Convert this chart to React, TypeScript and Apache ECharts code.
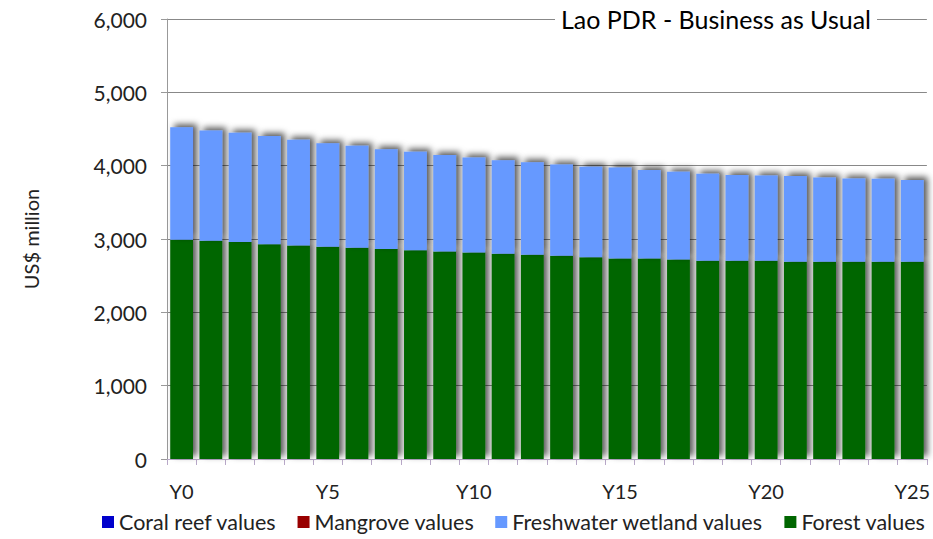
import React, { useEffect, useRef } from "react";
import * as echarts from "echarts";

const categories = Array.from({ length: 26 }, (_, i) => "Y" + i);
const forestValues = [2990, 2975, 2960, 2930, 2910, 2895, 2880, 2865, 2845, 2830, 2815, 2800, 2785, 2770, 2750, 2735, 2735, 2720, 2705, 2705, 2705, 2690, 2690, 2690, 2690, 2690];
const wetlandValues = [1535, 1505, 1490, 1475, 1445, 1410, 1390, 1360, 1345, 1315, 1295, 1275, 1263, 1245, 1235, 1240, 1205, 1198, 1185, 1168, 1160, 1170, 1150, 1135, 1133, 1115];
const mangroveValues = Array(26).fill(0);
const coralValues = Array(26).fill(0);
const legendNames = ["Coral reef values", "Mangrove values", "Freshwater wetland values", "Forest values"];

const FONT = "Lato, 'Open Sans', sans-serif";

export default function App() {
  const ref = useRef<HTMLDivElement>(null);
  useEffect(() => {
    if (!ref.current) return;
    const chart = echarts.init(ref.current, undefined, { renderer: "svg" });
    const shadow = {
      shadowBlur: 6,
      shadowColor: "rgba(0,0,0,0.65)",
      shadowOffsetX: 4,
      shadowOffsetY: -3,
    };
    chart.setOption({
      animation: false,
      textStyle: { fontFamily: FONT },
      title: {
        text: "Lao PDR - Business as Usual",
        right: 56,
        top: 4,
        backgroundColor: "#fff",
        padding: [2, 6, 2, 6],
        textStyle: { fontFamily: FONT, fontSize: 25, fontWeight: "normal", color: "#000" },
      },
      grid: { left: 167, right: 1, top: 19, bottom: 80 },
      legend: {
        bottom: 1,
        left: 97,
        icon: "rect",
        itemWidth: 12,
        itemHeight: 12,
        itemGap: 21,
        data: legendNames,
        textStyle: { fontFamily: FONT, fontSize: 21.5, color: "#222" },
      },
      xAxis: {
        type: "category",
        data: categories,
        axisLine: { lineStyle: { color: "#b8a8c8" } },
        axisTick: { show: true, interval: 0, length: 6, lineStyle: { color: "#b8a8c8" } },
        axisLabel: { interval: 4, fontSize: 20, color: "#222", margin: 22, fontFamily: FONT },
      },
      yAxis: {
        type: "value",
        min: 0,
        max: 6000,
        interval: 1000,
        name: "US$ million",
        nameLocation: "middle",
        nameGap: 126,
        nameTextStyle: { fontSize: 20, color: "#222", fontFamily: FONT },
        axisLine: { show: true, lineStyle: { color: "#999" } },
        axisTick: { show: true, length: 6, lineStyle: { color: "#999" } },
        axisLabel: {
          fontSize: 21,
          color: "#222",
          margin: 20,
          fontFamily: FONT,
          formatter: (v: number) => v.toLocaleString("en-US"),
        },
        splitLine: { lineStyle: { color: "#888" } },
      },
      series: [
        {
          name: "Forest values",
          type: "bar",
          stack: "total",
          data: forestValues,
          barCategoryGap: "22%",
          itemStyle: { color: "#006600", ...shadow },
        },
        {
          name: "Freshwater wetland values",
          type: "bar",
          stack: "total",
          data: wetlandValues,
          itemStyle: { color: "#6699ff", ...shadow },
        },
        {
          name: "Mangrove values",
          type: "bar",
          stack: "total",
          data: mangroveValues,
          itemStyle: { color: "#990000" },
        },
        {
          name: "Coral reef values",
          type: "bar",
          stack: "total",
          data: coralValues,
          itemStyle: { color: "#0000cc" },
        },
      ],
    });
    return () => chart.dispose();
  }, []);
  return <div ref={ref} style={{ width: 933, height: 539, position: "absolute", left: 0, top: 0 }} />;
}
